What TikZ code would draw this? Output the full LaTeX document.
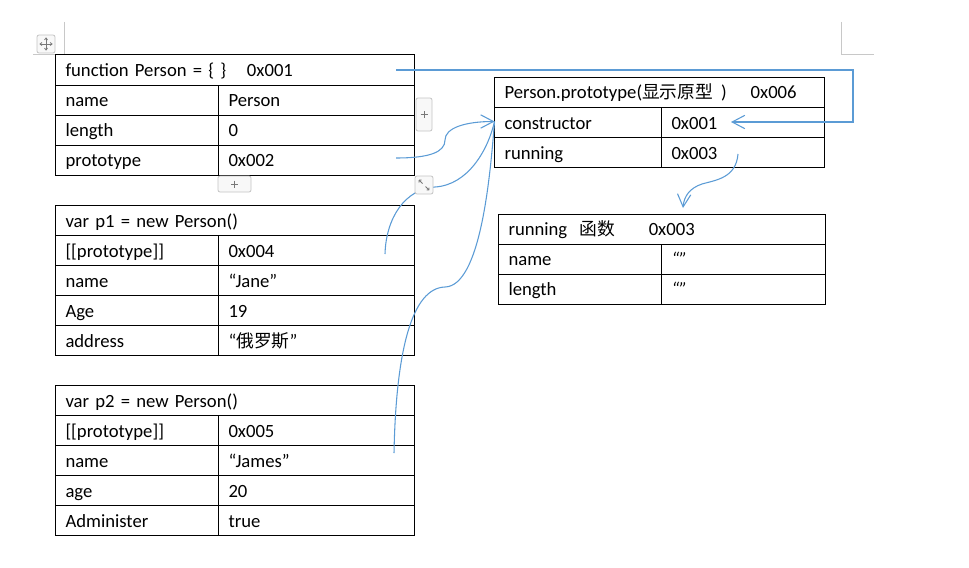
\documentclass[tikz,border=0pt]{standalone}
\usepackage{fontspec}
\setmainfont{Carlito}
\newfontfamily\cjk{Noto Sans CJK SC}
\usetikzlibrary{arrows.meta}
\definecolor{conn}{RGB}{91,155,213}
\definecolor{hgray}{RGB}{196,196,196}
\definecolor{hfill}{RGB}{248,248,248}
\definecolor{hsign}{RGB}{120,120,120}
\definecolor{cgray}{RGB}{200,200,200}
\newcommand{\zh}[1]{{\cjk\fontsize{13.3}{15}\selectfont #1}}
\begin{document}
\begin{tikzpicture}[x=0.75pt,y=-0.75pt,
  cell/.style={draw=black, line width=0.75pt, anchor=north west, inner xsep=7.5pt, inner ysep=0pt,
    minimum height=22.5pt, text width=#1, align=left, text height=12.6pt, text depth=2.8pt,
    font=\fontsize{14}{16}\selectfont},
  link/.style={draw=conn, line width=0.8pt},
  tip/.style={-{Straight Barb[length=9.5pt,width=10pt]}},
  handle/.style={draw=hgray, fill=hfill, line width=0.6pt, rounded corners=1.5pt},
  sign/.style={draw=hsign, line width=0.6pt},
  cornerline/.style={draw=cgray, line width=0.7pt}
]
\useasboundingbox (0,0) rectangle (969,567);

% margin corner marks
\draw[cornerline] (64,22) -- (64,54) -- (33,54);
\draw[cornerline] (841,22) -- (841,54) -- (874,54);

% table 1: function Person
\node[cell=254.25pt] (f0) at (55,54.5) {function Person = \{ \}\hspace{15.5pt}0x001};
\node[cell=107.25pt] (f1a) at (55,84.5) {name};
\node[cell=132pt] (f1b) at (218,84.5) {Person};
\node[cell=107.25pt] (f2a) at (55,114.5) {length};
\node[cell=132pt] (f2b) at (218,114.5) {0};
\node[cell=107.25pt] (f3a) at (55,144.5) {prototype};
\node[cell=132pt] (f3b) at (218,144.5) {0x002};

% table 2: p1
\node[cell=254.25pt] (a0) at (55,205) {var p1 = new Person()};
\node[cell=107.25pt] (a1a) at (55,235) {[[prototype]]};
\node[cell=132pt] (a1b) at (218,235) {0x004};
\node[cell=107.25pt] (a2a) at (55,265) {name};
\node[cell=132pt] (a2b) at (218,265) {“Jane”};
\node[cell=107.25pt] (a3a) at (55,295) {Age};
\node[cell=132pt] (a3b) at (218,295) {19};
\node[cell=107.25pt] (a4a) at (55,325) {address};
\node[cell=132pt] (a4b) at (218,325) {“\zh{俄罗斯}”};

% table 3: p2
\node[cell=254.25pt] (b0) at (55,385) {var p2 = new Person()};
\node[cell=107.25pt] (b1a) at (55,415) {[[prototype]]};
\node[cell=132pt] (b1b) at (218,415) {0x005};
\node[cell=107.25pt] (b2a) at (55,445) {name};
\node[cell=132pt] (b2b) at (218,445) {“James”};
\node[cell=107.25pt] (b3a) at (55,475) {age};
\node[cell=132pt] (b3b) at (218,475) {20};
\node[cell=107.25pt] (b4a) at (55,505) {Administer};
\node[cell=132pt] (b4b) at (218,505) {true};

% table 4: Person.prototype
\node[cell=232.5pt] (p0) at (494,76.5) {Person.prototype(\zh{显示原型}\hspace{6pt})\hspace{18pt}0x006};
\node[cell=110.25pt] (p1a) at (494,107) {constructor};
\node[cell=107.25pt] (p1b) at (661,107) {0x001};
\node[cell=110.25pt] (p2a) at (494,137) {running};
\node[cell=107.25pt] (p2b) at (661,137) {0x003};

% table 5: running
\node[cell=230.25pt] (r0) at (498,213.5) {running\hspace{9.5pt}\zh{函数}\hspace{25pt}0x003};
\node[cell=107.25pt] (r1a) at (498,243.5) {name};
\node[cell=108pt] (r1b) at (661,243.5) {\textit{“”}};
\node[cell=107.25pt] (r2a) at (498,273.5) {length};
\node[cell=108pt] (r2b) at (661,273.5) {\textit{“”}};

% connector end points
\coordinate (c1s) at (396,70);
\coordinate (c1k) at (853,70);
\coordinate (c1e) at (731,122);
\coordinate (c2s) at (396,158);
\coordinate (ctip) at (494.5,121.5);
\coordinate (c3s) at (385,254);
\coordinate (c4s) at (394,453);
\coordinate (c5s) at (738,154);
\coordinate (c5e) at (683,208);

\draw[link,tip] (c1s) -- (c1k) |- (c1e);
\draw[link,tip] (c2s) .. controls (430,158) and (445,152) .. (445,140)
  .. controls (445,128) and (465,121.5) .. (ctip);
\draw[link] (c3s) .. controls (386,218) and (405,189) .. (435,187)
  .. controls (468,185) and (488,150) .. (ctip);
\draw[link] (c4s) .. controls (396,350) and (412,288) .. (445,287)
  .. controls (480,286) and (490,180) .. (ctip);
\draw[link,tip] (c5s) .. controls (736,178) and (716,180) .. (702,184)
  .. controls (690,188) and (684,196) .. (c5e);

% Word table handles
\draw[handle] (37,35) rectangle (55,53);
\draw[sign] (40,44) -- (52,44) (46,38) -- (46,50);
\draw[sign] (42,42.5) -- (40,44) -- (42,45.5);
\draw[sign] (50,42.5) -- (52,44) -- (50,45.5);
\draw[sign] (44.5,40) -- (46,38) -- (47.5,40);
\draw[sign] (44.5,48) -- (46,50) -- (47.5,48);

\draw[handle] (416,98) rectangle (432,131);
\draw[sign] (420.5,114.5) -- (427.5,114.5) (424,111) -- (424,118);

\draw[handle] (218,176) rectangle (251,192);
\draw[sign] (231,184) -- (238,184) (234.5,180.5) -- (234.5,187.5);

\draw[handle] (415,176) rectangle (433,194);
\draw[sign] (419,180) -- (422.5,183.5) (419,180) -- (419,182.5) (419,180) -- (421.5,180);
\draw[sign] (429,190) -- (425.5,186.5) (429,190) -- (429,187.5) (429,190) -- (426.5,190);
\end{tikzpicture}
\end{document}
